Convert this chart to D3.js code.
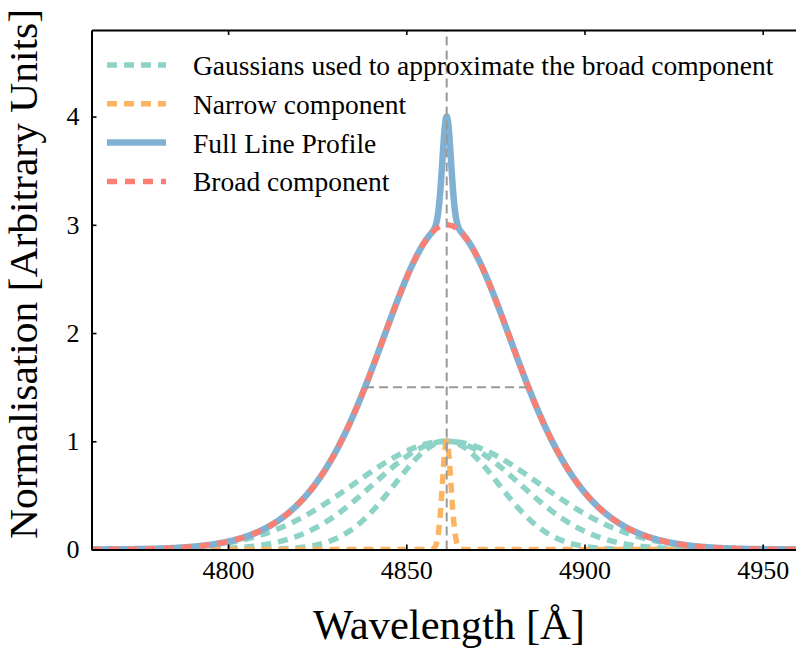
<!DOCTYPE html>
<html>
<head>
<meta charset="utf-8">
<script src="https://cdn.jsdelivr.net/npm/d3@7"></script>
<style>
  body { margin: 0; background: #ffffff; }
  svg { display: block; }
  text { font-family: "Liberation Serif", "Times New Roman", serif; fill: #000; }
</style>
</head>
<body>
<svg id="chart" width="796" height="650"></svg>
<script>
// H-beta emission line: a broad component built from Gaussians plus a narrow core.
const lineCentre = 4861.33;              // rest wavelength [Å]
const broadCentres = [4861.33, 4861.33, 4861.33];
const broadSigmas  = [14.5, 20.5, 26];   // [Å]
const broadAmps    = [1, 1, 1];
const narrowCentres = [4861.33];
const narrowSigmas  = [1.2];
const narrowAmps    = [1];
const xTicks = [4800, 4850, 4900, 4950];
const yTicks = [0, 1, 2, 3, 4];
const xDomain = [4761.67, 4961.67];
const yDomain = [0, 4.8];
const legendLabels = [
  "Gaussians used to approximate the broad component",
  "Narrow component",
  "Full Line Profile",
  "Broad component"
];

const colours = { gauss: "#8dd3c7", narrow: "#fdb462", full: "#80b1d3", broad: "#fb8072", guide: "#999999" };

const W = 796, H = 650;
const plot = { left: 91.5, top: 30, right: 804.3, bottom: 549.5 };

const svg = d3.select("#chart");
svg.append("rect").attr("width", W).attr("height", H).attr("fill", "#fff");

const x = d3.scaleLinear().domain(xDomain).range([plot.left, plot.right]);
const y = d3.scaleLinear().domain(yDomain).range([plot.bottom, plot.top]);

const gauss = (lam, c, s, a) => a * Math.exp(-((lam - c) ** 2) / (2 * s * s));
const grid = d3.range(xDomain[0], xDomain[1] + 0.025, 0.05);

const gaussSeries = broadCentres.map((c, i) => grid.map(l => [l, gauss(l, c, broadSigmas[i], broadAmps[i])]));
const broadAt = l => d3.sum(broadCentres, (c, i) => gauss(l, c, broadSigmas[i], broadAmps[i]));
const narrowAt = l => d3.sum(narrowCentres, (c, i) => gauss(l, c, narrowSigmas[i], narrowAmps[i]));
const broadSeries = grid.map(l => [l, broadAt(l)]);
const narrowSeries = grid.map(l => [l, narrowAt(l)]);
const fullSeries = grid.map(l => [l, broadAt(l) + narrowAt(l)]);

// half-maximum crossings of the broad component
const peak = broadAt(lineCentre);
function crossing(a, b) {
  for (let k = 0; k < 60; k++) {
    const m = (a + b) / 2;
    if ((broadAt(a) - peak / 2) * (broadAt(m) - peak / 2) <= 0) b = m; else a = m;
  }
  return (a + b) / 2;
}
const hmLeft = crossing(xDomain[0], lineCentre);
const hmRight = crossing(lineCentre, xDomain[1]);

svg.append("clipPath").attr("id", "plotClip")
  .append("rect")
  .attr("x", plot.left).attr("y", plot.top)
  .attr("width", plot.right - plot.left).attr("height", plot.bottom - plot.top);

const g = svg.append("g").attr("clip-path", "url(#plotClip)");
const line = d3.line().x(d => x(d[0])).y(d => y(d[1]));

gaussSeries.forEach(s => {
  g.append("path").datum(s).attr("d", line)
    .attr("fill", "none").attr("stroke", colours.gauss)
    .attr("stroke-width", 5.5).attr("stroke-dasharray", "10,7");
});
g.append("path").datum(narrowSeries).attr("d", line)
  .attr("fill", "none").attr("stroke", colours.narrow)
  .attr("stroke-width", 5.5).attr("stroke-dasharray", "10,7");
g.append("path").datum(fullSeries).attr("d", line)
  .attr("fill", "none").attr("stroke", colours.full)
  .attr("stroke-width", 6.5).attr("stroke-linejoin", "round");
g.append("path").datum(broadSeries).attr("d", line)
  .attr("fill", "none").attr("stroke", colours.broad)
  .attr("stroke-width", 5.5).attr("stroke-dasharray", "10,8");

// guides: line centre and FWHM of the broad component
g.append("line")
  .attr("x1", x(lineCentre)).attr("x2", x(lineCentre))
  .attr("y1", y(yDomain[0])).attr("y2", y(yDomain[1]))
  .attr("stroke", colours.guide).attr("stroke-width", 2).attr("stroke-dasharray", "9,5");
g.append("line")
  .attr("x1", x(hmLeft)).attr("x2", x(hmRight))
  .attr("y1", y(peak / 2)).attr("y2", y(peak / 2))
  .attr("stroke", colours.guide).attr("stroke-width", 2).attr("stroke-dasharray", "9,5");

// axes with inward ticks
const axB = svg.append("g").attr("transform", `translate(0,${plot.bottom})`)
  .call(d3.axisBottom(x).tickValues(xTicks).tickSizeInner(-5).tickSizeOuter(0).tickPadding(11).tickFormat(d3.format("d")));
const axT = svg.append("g").attr("transform", `translate(0,${plot.top})`)
  .call(d3.axisTop(x).tickValues(xTicks).tickSizeInner(-5).tickSizeOuter(0).tickFormat(""));
const axL = svg.append("g").attr("transform", `translate(${plot.left},0)`)
  .call(d3.axisLeft(y).tickValues(yTicks).tickSizeInner(-5).tickSizeOuter(0).tickPadding(12).tickFormat(d3.format("d")));

[axB, axT, axL].forEach(a => {
  a.attr("font-family", null).attr("font-size", null);
  a.select(".domain").attr("stroke", "#000").attr("stroke-width", 2);
  a.selectAll(".tick line").attr("stroke", "#000").attr("stroke-width", 1.6);
  a.selectAll(".tick text").attr("font-size", 26).attr("fill", "#000");
});

// axis titles
svg.append("text")
  .attr("x", 449).attr("y", 639)
  .attr("text-anchor", "middle")
  .attr("font-size", 42)
  .attr("textLength", 272).attr("lengthAdjust", "spacingAndGlyphs")
  .text("Wavelength [Å]");
svg.append("text")
  .attr("transform", "translate(37,274) rotate(-90)")
  .attr("text-anchor", "middle")
  .attr("font-size", 41)
  .attr("textLength", 530).attr("lengthAdjust", "spacingAndGlyphs")
  .text("Normalisation [Arbitrary Units]");

// legend
const legendStyles = [
  { stroke: colours.gauss, width: 5.5, dash: "10,7" },
  { stroke: colours.narrow, width: 5.5, dash: "10,7" },
  { stroke: colours.full, width: 6.5, dash: null },
  { stroke: colours.broad, width: 5.5, dash: "10,8" }
];
const legend = svg.append("g");
legendLabels.forEach((lab, i) => {
  const by = 75 + i * 38.8;
  const st = legendStyles[i];
  legend.append("line")
    .attr("x1", 107).attr("x2", 166).attr("y1", by - 10).attr("y2", by - 10)
    .attr("stroke", st.stroke).attr("stroke-width", st.width)
    .attr("stroke-dasharray", st.dash);
  legend.append("text")
    .attr("x", 193).attr("y", by)
    .attr("font-size", 27.5)
    .text(lab);
});
</script>
</body>
</html>
